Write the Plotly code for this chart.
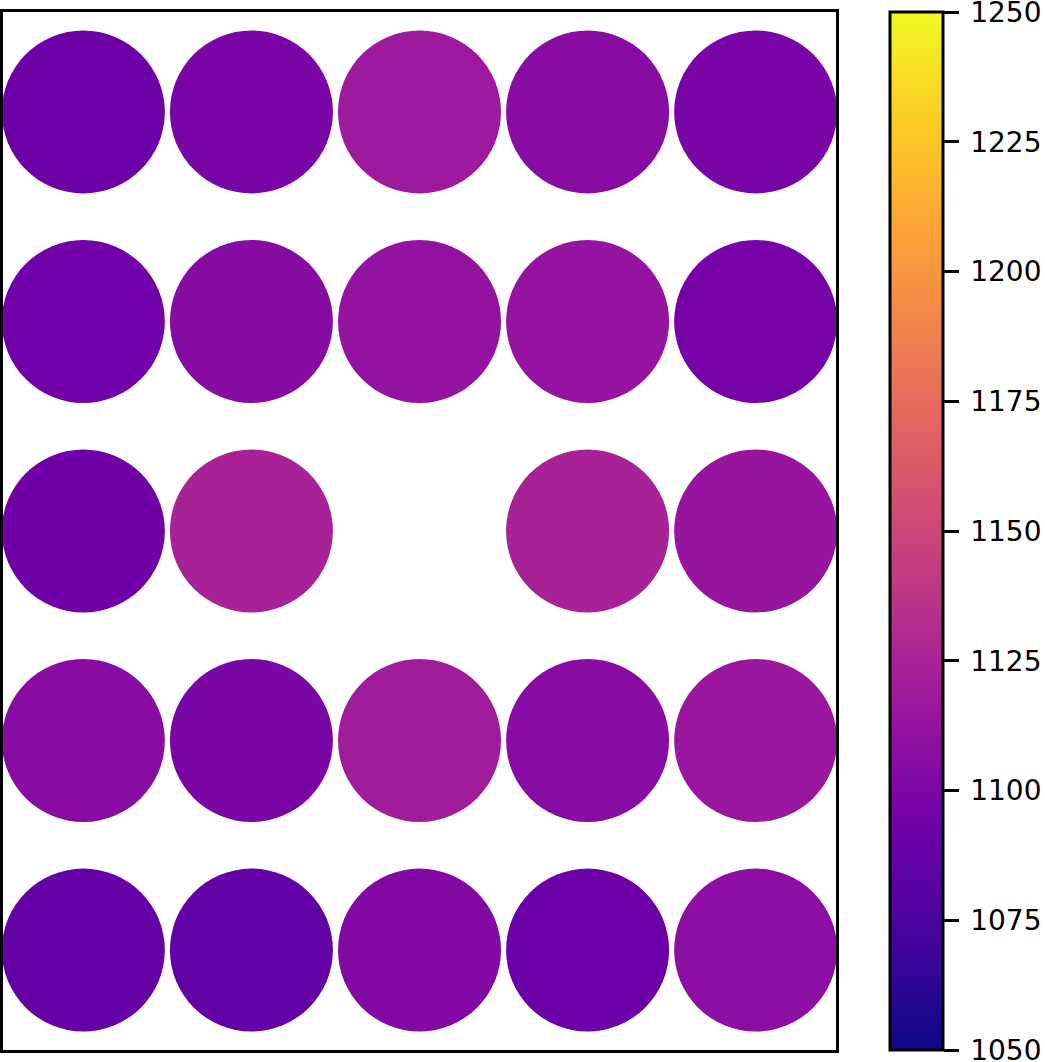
import plotly.graph_objects as go

# Grid values, top row first; None = empty cell
row1 = [1092, 1098, 1118, 1106, 1098]
row2 = [1094, 1105, 1112, 1113, 1096]
row3 = [1093, 1124, None, 1124, 1114]
row4 = [1106, 1099, 1120, 1106, 1116]
row5 = [1088, 1087, 1103, 1091, 1108]
rows = [row1, row2, row3, row4, row5]
cbar_ticks = [1050, 1075, 1100, 1125, 1150, 1175, 1200, 1225, 1250]

xs, ys, vs = [], [], []
for i, row in enumerate(rows):
    for j, v in enumerate(row):
        if v is None:
            continue
        xs.append(j)
        ys.append(4 - i)
        vs.append(v)

fig = go.Figure(go.Scatter(
    x=xs, y=ys, mode="markers",
    marker=dict(
        size=163, color=vs, colorscale="Plasma", cmin=1050, cmax=1250,
        line=dict(width=0), opacity=1,
        colorbar=dict(
            x=1.0635, xanchor="left", y=0.5, yanchor="middle",
            len=1, lenmode="fraction", thickness=53, thicknessmode="pixels",
            outlinewidth=3, outlinecolor="black", xpad=0, ypad=0,
            tickvals=cbar_ticks, ticktext=["\u2009" + str(t) for t in cbar_ticks],
            ticks="outside", ticklen=15, tickwidth=3, tickcolor="black",
            ticklabeloverflow="allow",
            tickfont=dict(family="DejaVu Sans", size=28, color="black"),
        ),
    ),
    hoverinfo="skip",
))

fig.update_layout(
    width=1045, height=1062,
    margin=dict(l=3, r=208, t=12, b=12),
    paper_bgcolor="white", plot_bgcolor="white",
    showlegend=False,
    xaxis=dict(range=[-0.478, 4.478], showgrid=False, zeroline=False,
               showticklabels=False, ticks="", showline=True, mirror=True,
               linecolor="black", linewidth=3),
    yaxis=dict(range=[-0.477, 4.477], showgrid=False, zeroline=False,
               showticklabels=False, ticks="", showline=True, mirror=True,
               linecolor="black", linewidth=3),
)

fig.write_html("out.html")
